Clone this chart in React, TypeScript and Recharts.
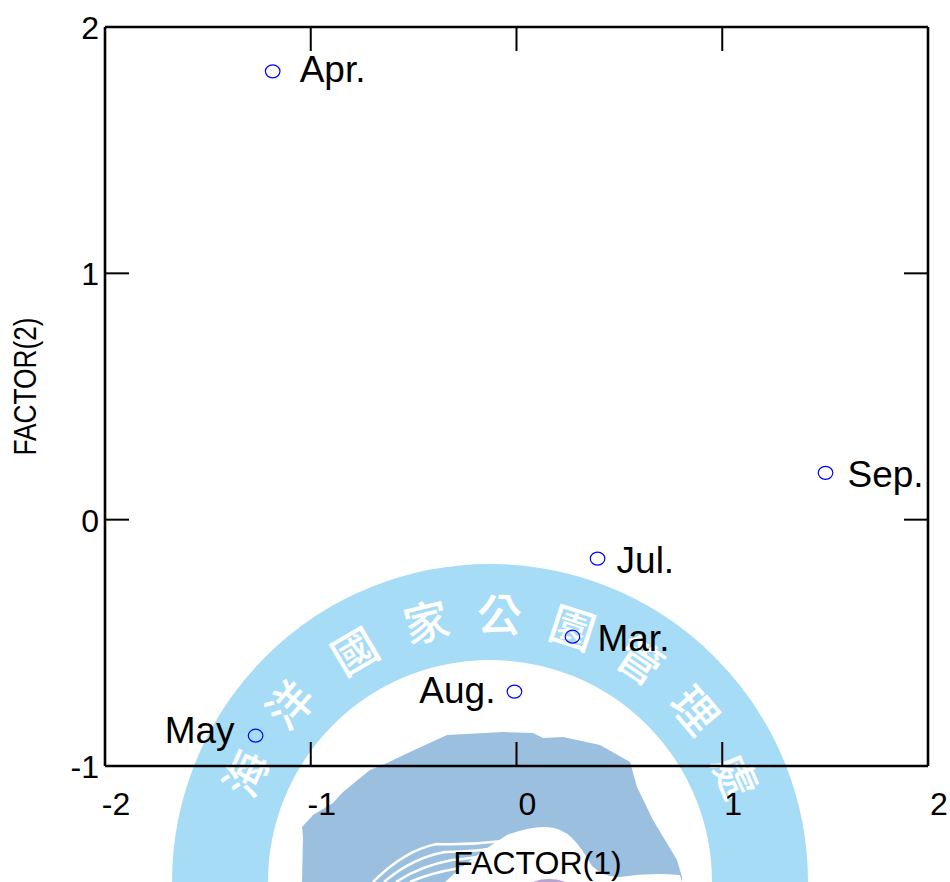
import React from 'react';
import { ScatterChart, Scatter, XAxis, YAxis, LabelList, Label } from 'recharts';

const months = ['Apr.', 'Sep.', 'Jul.', 'Mar.', 'Aug.', 'May'];
const factor1 = [-1.185, 1.502, 0.394, 0.272, -0.01, -1.268];
const factor2 = [1.82, 0.19, -0.158, -0.475, -0.698, -0.877];
const axisTicks = [-2, -1, 0, 1, 2];
const yTicks = [-1, 0, 1, 2];
const sealChars = ['海', '洋', '國', '家', '公', '園', '管', '理', '處'];
const sealAngles = [-66, -48.5, -30.4, -13.8, 2, 18, 34, 50, 66.6];

const rows = months.map((m, i) => ({ month: m, x: factor1[i], y: factor2[i] }));

const FONT = '"Liberation Sans", Arial, sans-serif';
const TICK_LEN = 24;
const labelNudge: Record<string, [number, number]> = {
  'Apr.': [27, -1], 'Sep.': [22, 2], 'Jul.': [19, 2], 'Mar.': [25, 2], 'Aug.': [-19, -1], May: [-21, -5],
};

function Ring() {
  return (
    <svg width={950} height={882} style={{ position: 'absolute', left: 0, top: 0 }}>
      <circle cx={490} cy={882} r={270} fill="none" stroke="#a6dcf6" strokeWidth={96} />
      <path
        d="M302 882 L303 837 L302 827 L313 815 L333 803 L343 792 L370 770 L387 763 L410 752 L447 735 L503 732 L533 733 L543 738 L563 737 L600 745 L630 762 L637 787 L653 820 L677 860 L682 877 L682 882 Z"
        fill="#9bbfdf"
      />
      <path d="M445 882 Q470 858 507 835 Q530 826 547 827 Q562 828 572 838 Q582 848 592 866 Q605 878 620 877 Q650 872 680 875 L682 882 Z" fill="#ffffff" />
      <path d="M373 882 Q405 850 437 844 Q470 845 503 841" fill="none" stroke="#ffffff" strokeWidth={2.5} />
      <path d="M384 882 Q412 858 445 852 Q475 852 510 846" fill="none" stroke="#ffffff" strokeWidth={2.5} />
      <path d="M396 882 Q420 866 452 860 Q480 858 512 850" fill="none" stroke="#ffffff" strokeWidth={2.5} />
      <path d="M410 882 Q430 873 460 868 Q485 866 510 856" fill="none" stroke="#ffffff" strokeWidth={2.5} />
      <ellipse cx={549} cy={887} rx={20} ry={8} fill="#b7a3cf" />
      {sealChars.map((c, i) => (
        <text
          key={c}
          transform={`translate(490 882) rotate(${sealAngles[i]}) translate(0 -270)`}
          textAnchor="middle"
          dominantBaseline="central"
          fontFamily='"Noto Sans CJK TC", sans-serif'
          fontWeight={500}
          fontSize={45}
          fill="#ffffff"
        >
          {c}
        </text>
      ))}
    </svg>
  );
}

function XTick({ x, y, payload, side }: any) {
  const dir = side === 'top' ? 1 : -1;
  return (
    <g>
      <line x1={x} y1={y} x2={x} y2={y + dir * TICK_LEN} stroke="#000" strokeWidth={2} />
      {side === 'bottom' && (
        <text x={x + 11} y={y + 49} textAnchor="middle" fontFamily={FONT} fontSize={32} fill="#000">
          {payload.value}
        </text>
      )}
    </g>
  );
}

function YTick({ x, y, payload, side }: any) {
  const dir = side === 'left' ? 1 : -1;
  return (
    <g>
      <line x1={x} y1={y} x2={x + dir * TICK_LEN} y2={y} stroke="#000" strokeWidth={2} />
      {side === 'left' && (
        <text x={x - 6} y={y + 12} textAnchor="end" fontFamily={FONT} fontSize={32} fill="#000">
          {payload.value}
        </text>
      )}
    </g>
  );
}

function Mark({ cx, cy }: any) {
  return <ellipse cx={cx} cy={cy} rx={7.3} ry={6.5} fill="none" stroke="#0000ff" strokeWidth={1.2} />;
}

function MonthLabel({ x, y, width, height, value }: any) {
  const cx = x + (width || 0) / 2;
  const cy = y + (height || 0) / 2;
  const [dx, dy] = labelNudge[value] || [20, 0];
  return (
    <text
      x={cx + dx}
      y={cy + dy + 12}
      textAnchor={dx < 0 ? 'end' : 'start'}
      fontFamily={FONT}
      fontSize={37}
      fill="#000"
    >
      {value}
    </text>
  );
}

function XTitle({ viewBox }: any) {
  return (
    <text x={viewBox.x + viewBox.width / 2 + 21} y={874} textAnchor="middle" fontFamily={FONT} fontSize={32} fill="#000">
      FACTOR(1)
    </text>
  );
}

function YTitle({ viewBox }: any) {
  return (
    <text
      transform={`translate(36 ${viewBox.y + viewBox.height / 2 - 10}) rotate(-90) scale(0.82 1)`}
      textAnchor="middle"
      fontFamily={FONT}
      fontSize={32}
      fill="#000"
    >
      FACTOR(2)
    </text>
  );
}

const axisLine = { stroke: '#000', strokeWidth: 2.6 };

export default function App() {
  return (
    <div style={{ position: 'absolute', left: 0, top: 0, width: 950, height: 882, background: '#fff', overflow: 'hidden' }}>
      <Ring />
      <div style={{ position: 'absolute', left: 0, top: 0 }}>
        <ScatterChart width={950} height={882} margin={{ top: 0, right: 0, bottom: 0, left: 0 }} data={rows}>
          <XAxis
            xAxisId="b"
            type="number"
            dataKey="x"
            orientation="bottom"
            domain={[-2, 2]}
            ticks={axisTicks}
            interval={0}
            height={116}
            tickSize={0}
            tickMargin={0}
            tickLine={false}
            axisLine={axisLine}
            tick={(p: any) => <XTick {...p} side="bottom" />}
          >
            <Label content={(p: any) => <XTitle {...p} />} />
          </XAxis>
          <XAxis
            xAxisId="t"
            type="number"
            dataKey="x"
            orientation="top"
            domain={[-2, 2]}
            ticks={axisTicks}
            interval={0}
            height={27}
            tickSize={0}
            tickMargin={0}
            tickLine={false}
            axisLine={axisLine}
            tick={(p: any) => <XTick {...p} side="top" />}
          />
          <YAxis
            yAxisId="l"
            type="number"
            dataKey="y"
            orientation="left"
            domain={[-1, 2]}
            ticks={yTicks}
            interval={0}
            width={105}
            tickSize={0}
            tickMargin={0}
            tickLine={false}
            axisLine={axisLine}
            tick={(p: any) => <YTick {...p} side="left" />}
          >
            <Label content={(p: any) => <YTitle {...p} />} />
          </YAxis>
          <YAxis
            yAxisId="r"
            type="number"
            dataKey="y"
            orientation="right"
            domain={[-1, 2]}
            ticks={yTicks}
            interval={0}
            width={22}
            tickSize={0}
            tickMargin={0}
            tickLine={false}
            axisLine={axisLine}
            tick={(p: any) => <YTick {...p} side="right" />}
          />
          <Scatter xAxisId="b" yAxisId="l" data={rows} dataKey="y" shape={<Mark />} isAnimationActive={false}>
            <LabelList dataKey="month" content={<MonthLabel />} />
          </Scatter>
        </ScatterChart>
      </div>
    </div>
  );
}
